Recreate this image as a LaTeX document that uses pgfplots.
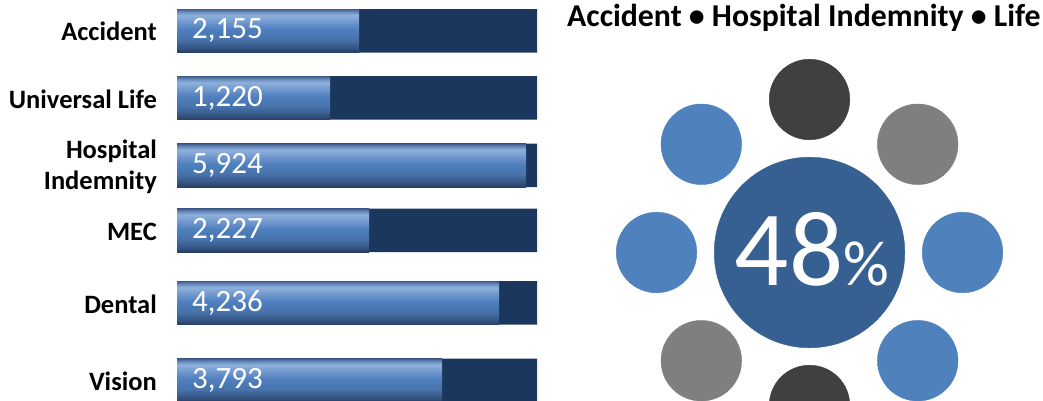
\documentclass[border=0pt]{standalone}
\usepackage{pgfplots}
\pgfplotsset{compat=1.18}
\usepackage{pgfplotstable}
\usepackage{fontspec}
\setmainfont{Carlito}

\definecolor{navy}{RGB}{27,55,94}
\definecolor{dgray}{RGB}{64,64,64}
\definecolor{mgray}{RGB}{127,127,127}
\definecolor{lblue}{RGB}{79,129,189}
\definecolor{cblue}{RGB}{55,96,146}

\pgfdeclareverticalshading{barshade}{100bp}{%
  rgb(0bp)=(0.16,0.24,0.39);
  rgb(25bp)=(0.16,0.24,0.39);
  rgb(31bp)=(0.21,0.34,0.52);
  rgb(40bp)=(0.28,0.45,0.67);
  rgb(52bp)=(0.31,0.50,0.75);
  rgb(62bp)=(0.47,0.62,0.82);
  rgb(68bp)=(0.56,0.69,0.86);
  rgb(72bp)=(0.40,0.54,0.73);
  rgb(75bp)=(0.25,0.37,0.55);
  rgb(100bp)=(0.25,0.37,0.55)}

% y = minus pixel row of bar centre, len = bar length (px of 360), label = shown value
\pgfplotstableread{
y      len  full label
-30.8  182  360  2,155
-98    153  360  1,220
-165.5 349  360  5,924
-230.5 192  360  2,227
-303   322  360  4,236
-380.5 265  360  3,793
}\bars

\begin{document}
\begin{tikzpicture}
\useasboundingbox (0pt,0pt) rectangle (1043pt,401pt);
\clip (0pt,0pt) rectangle (1043pt,401pt);
% full-canvas axis (extended below the page so the bottom circle is kept)
\begin{axis}[at={(0pt,-49pt)}, anchor=south west, scale only axis,
  width=1043pt, height=450pt, xmin=0, xmax=1043, ymin=-450, ymax=0,
  hide axis, clip=false]
\addplot[only marks, mark=*, mark size=95.3pt, mark options={draw=cblue, fill=cblue}]
  coordinates {(809.5,-252.5)};
\addplot[only marks, mark=*, mark size=40.3pt, mark options={draw=dgray, fill=dgray}]
  coordinates {(809.5,-99.5) (809.5,-405.5)};
\addplot[only marks, mark=*, mark size=40.3pt, mark options={draw=mgray, fill=mgray}]
  coordinates {(917.7,-144.3) (701.3,-360.7)};
\addplot[only marks, mark=*, mark size=40.3pt, mark options={draw=lblue, fill=lblue}]
  coordinates {(962.5,-252.5) (656.5,-252.5) (701.3,-144.3) (917.7,-360.7)};
\coordinate (title) at (axis cs:567,-27);
\coordinate (pct) at (axis cs:812,-286);
\end{axis}
\node[anchor=base west, inner sep=0pt, font=\bfseries\fontsize{31.8}{34}\selectfont]
  at (title) {Accident • Hospital Indemnity • Life};
\node[anchor=base, inner sep=0pt, text=white]
  at (pct) {\fontsize{107}{107}\selectfont 48\fontsize{64}{64}\selectfont\%};
% bar axis
\begin{axis}[at={(177pt,0pt)}, anchor=south west, scale only axis,
  width=360pt, height=401pt, xmin=0, xmax=360, ymin=-401, ymax=0,
  axis line style={draw=none}, major tick length=0pt,
  xtick=\empty,
  ytick={-30.8,-98,-165.5,-230.5,-303,-380.5},
  yticklabels={Accident, Universal Life, {Hospital\\Indemnity}, MEC, Dental, Vision},
  yticklabel style={font=\bfseries\fontsize{26.5}{31}\selectfont, align=right,
    inner sep=0pt, anchor=east, xshift=-20pt, yshift=-1pt},
  ]
\addplot[xbar, bar shift=0pt, bar width=43.5, fill=navy, draw=none]
  table[x=full, y=y]{\bars};
\pgfplotsinvokeforeach{0,...,5}{
\addplot[xbar, bar shift=0pt, bar width=43.5, shading=barshade, draw=none,
  restrict expr to domain={\coordindex}{#1:#1}]
  table[x=len, y=y]{\bars};
}
\addplot[draw=none, mark=none, nodes near coords, point meta=explicit symbolic,
  nodes near coords style={anchor=west, text=white, inner sep=0pt, xshift=15pt,
    yshift=0pt, font=\fontsize{31}{31}\selectfont}]
  table[x expr=0, y=y, meta=label]{\bars};
\end{axis}
\end{tikzpicture}
\end{document}
